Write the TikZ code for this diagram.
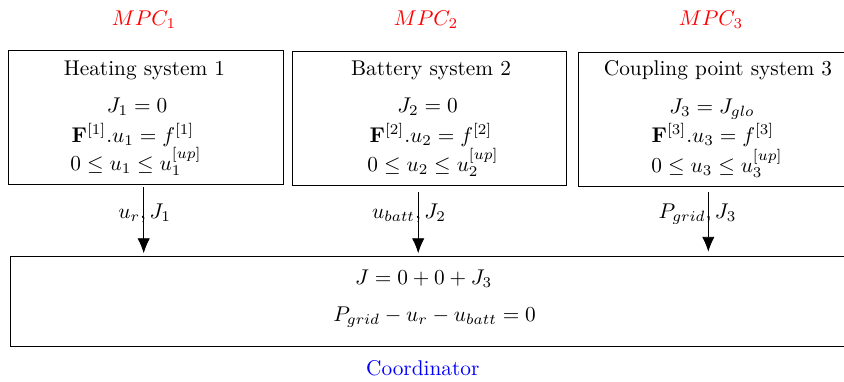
\documentclass[tikz,border=0pt]{standalone}
\usepackage{amsmath}
\usetikzlibrary{arrows.meta}
\begin{document}
\begin{tikzpicture}[x=0.469pt,y=-0.469pt,
  box/.style={draw, inner sep=0pt, outer sep=0pt},
  txt/.style={anchor=base, inner sep=0pt},
  mpc/.style={txt, text=red},
  arr/.style={-{Latex[length=7pt,width=5.8pt]}}]
\useasboundingbox (0,0) rectangle (844,381);
% MPC boxes
\node[box, minimum width=129pt, minimum height=62.8pt] (b1) at (145.5,117) {};
\node[box, minimum width=128.5pt, minimum height=62.8pt] (b2) at (429,118) {};
\node[box, minimum width=128.5pt, minimum height=62.8pt] (b3) at (715,119) {};
% labels above
\node[mpc] (m1) at (144,25) {$MPC_1$};
\node[mpc] (m2) at (426,25) {$MPC_2$};
\node[mpc] (m3) at (711,25) {$MPC_3$};
% box 1 text
\node[txt] (t1) at (144.5,75) {Heating system 1};
\node[txt] (e11) at (137,112) {$J_1 = 0$};
\node[txt] (e12) at (133,142) {$\mathbf{F}^{[1]}.u_1 = f^{[1]}$};
\node[txt] (e13) at (136,170) {$0 \le u_1 \le u_1^{[up]}$};
% box 2 text
\node[txt] (t2) at (431,75) {Battery system 2};
\node[txt] (e21) at (427.5,112) {$J_2 = 0$};
\node[txt] (e22) at (431,142) {$\mathbf{F}^{[2]}.u_2 = f^{[2]}$};
\node[txt] (e23) at (433,171) {$0 \le u_2 \le u_2^{[up]}$};
% box 3 text
\node[txt] (t3) at (718,75) {Coupling point system 3};
\node[txt] (e31) at (712,113) {$J_3 = J_{glo}$};
\node[txt] (e32) at (713,142) {$\mathbf{F}^{[3]}.u_3 = f^{[3]}$};
\node[txt] (e33) at (717,172) {$0 \le u_3 \le u_3^{[up]}$};
% coordinator
\node[box, minimum width=394pt, minimum height=42.2pt] (co) at (430,301) {};
\node[txt] (c1) at (423.7,284) {$J = 0 + 0 + J_3$};
\node[txt] (c2) at (434.6,321.7) {$P_{grid} - u_r - u_{batt} = 0$};
\node[txt, text=blue] (cl) at (422.8,375) {Coordinator};
% arrows
\coordinate (a1) at (143.7,0);
\coordinate (a2) at (418.2,0);
\coordinate (a3) at (708.3,0);
\draw[arr, shorten <=1.5pt, shorten >=1.3pt] (b1.south -| a1) -- (co.north -| a1);
\draw[arr, shorten <=3.4pt, shorten >=1.3pt] (b2.south -| a2) -- (co.north -| a2);
\draw[arr, shorten <=3pt, shorten >=2pt] (b3.south -| a3) -- (co.north -| a3);
% arrow labels
\node[txt] (l1) at (144.7,218) {$u_r, J_1$};
\node[txt] (l2) at (409,218) {$u_{batt}, J_2$};
\node[txt] (l3) at (697.5,218) {$P_{grid}, J_3$};
\end{tikzpicture}
\end{document}
